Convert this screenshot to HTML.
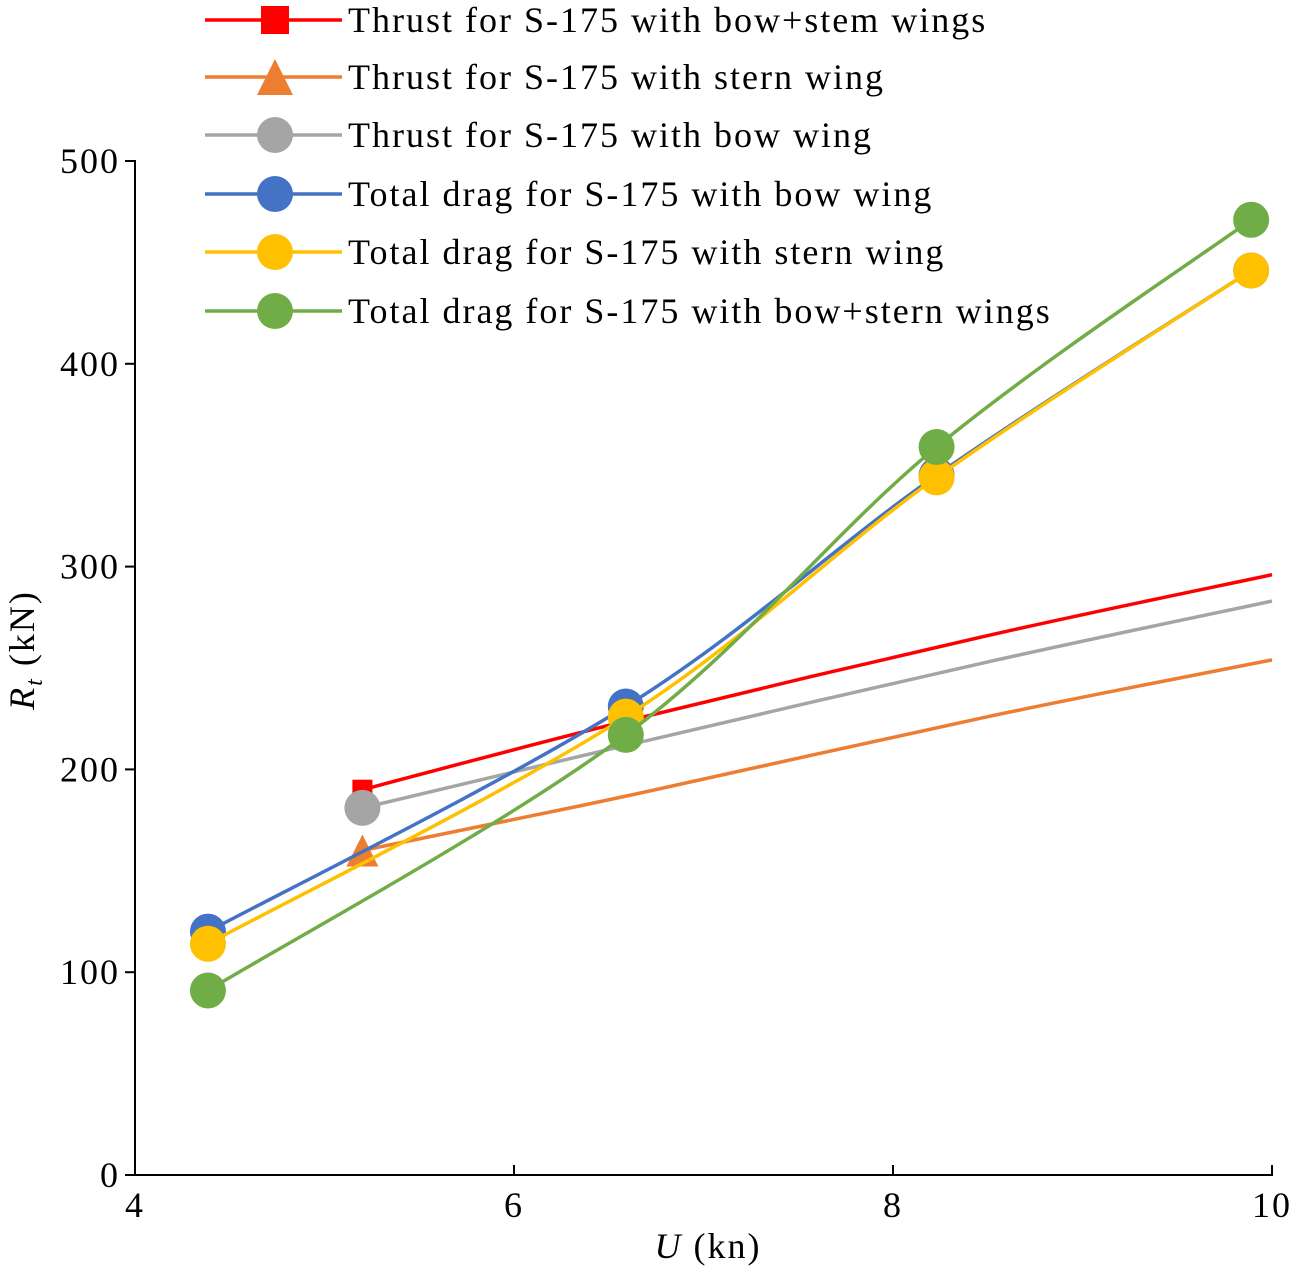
<!DOCTYPE html>
<html><head><meta charset="utf-8"><style>
html,body{margin:0;padding:0;background:#fff;}
svg{display:block;font-family:"Liberation Serif",serif;}
</style></head><body>
<svg id="chart" width="1299" height="1273" viewBox="0 0 1299 1273" xmlns="http://www.w3.org/2000/svg"></svg>
<script>
const xTicks=[4,6,8,10];
const yTicks=[0,100,200,300,400,500];
const thrustX=[5.2,6.6,8.5,10];
const thrustBowStern=[190,224,266,296];
const thrustStern=[160,187,226,254];
const thrustBow=[181,212,253,283];
const dragX=[4.385,6.59,8.23,9.89];
const dragBow=[120,231,345,446];
const dragStern=[114,226,344,446];
const dragBowStern=[91,217,359,471];

const NS="http://www.w3.org/2000/svg";
const svg=document.getElementById('chart');
const X=v=>135+(v-4)*(1272-135)/6;
const Y=v=>1175-v*(1175-161)/500;
function mk(tag,attrs,parent){const e=document.createElementNS(NS,tag);for(const k in attrs)e.setAttribute(k,attrs[k]);(parent||svg).appendChild(e);return e;}
function smooth(xs,ys){
  const p=xs.map((x,i)=>[X(x),Y(ys[i])]);
  let d=`M${p[0][0]},${p[0][1]}`;
  for(let i=0;i<p.length-1;i++){
    const p0=p[i-1]||p[i],p1=p[i],p2=p[i+1],p3=p[i+2]||p2;
    const c1=[p1[0]+(p2[0]-p0[0])/6,p1[1]+(p2[1]-p0[1])/6];
    const c2=[p2[0]-(p3[0]-p1[0])/6,p2[1]-(p3[1]-p1[1])/6];
    d+=` C${c1[0]},${c1[1]} ${c2[0]},${c2[1]} ${p2[0]},${p2[1]}`;
  }
  return d;
}
const FS=36, LS=2;
let ax=mk('line',{x1:135,y1:1175,x2:1273,y2:1175,stroke:'#000','stroke-width':2});

let ay=mk('line',{x1:135,y1:160,x2:135,y2:1175,stroke:'#000','stroke-width':2});

xTicks.forEach(t=>{
  const tk=mk('line',{x1:X(t),y1:1175,x2:X(t),y2:1165,stroke:'#000','stroke-width':2});
  
  const tx=mk('text',{x:X(t),y:1217,'text-anchor':'middle','font-size':FS,'letter-spacing':LS,fill:'#000'});tx.textContent=t;
  
});
yTicks.forEach(t=>{
  const tk=mk('line',{x1:135,y1:Y(t),x2:125,y2:Y(t),stroke:'#000','stroke-width':2});
  
  const tx=mk('text',{x:120,y:Y(t)+12,'text-anchor':'end','font-size':FS,'letter-spacing':LS,fill:'#000'});tx.textContent=t;
  
});
const xl=mk('text',{x:708,y:1258,'text-anchor':'middle','font-size':FS,'letter-spacing':LS});
xl.innerHTML='<tspan font-style="italic">U</tspan> (kn)';

const yl=mk('text',{x:0,y:0,'text-anchor':'middle','font-size':FS,'letter-spacing':LS,transform:'translate(34,650) rotate(-90)'});
yl.innerHTML='<tspan font-style="italic">R</tspan><tspan font-style="italic" font-size="24" dy="8">t</tspan><tspan dy="-8"> (kN)</tspan>';


const series=[
 {name:'thrust-bow-stern',x:thrustX,y:thrustBowStern,c:'#ff0000',m:'square',all:false,label:'Thrust for S-175 with bow+stem wings'},
 {name:'thrust-stern',x:thrustX,y:thrustStern,c:'#ed7d31',m:'tri',all:false,label:'Thrust for S-175 with stern wing'},
 {name:'thrust-bow',x:thrustX,y:thrustBow,c:'#a5a5a5',m:'circ',all:false,label:'Thrust for S-175 with bow wing'},
 {name:'drag-bow',x:dragX,y:dragBow,c:'#4472c4',m:'circ',all:true,label:'Total drag for S-175 with bow wing'},
 {name:'drag-stern',x:dragX,y:dragStern,c:'#ffc000',m:'circ',all:true,label:'Total drag for S-175 with stern wing'},
 {name:'drag-bow-stern',x:dragX,y:dragBowStern,c:'#70ad47',m:'circ',all:true,label:'Total drag for S-175 with bow+stern wings'},
];
function marker(type,cx,cy,c,big){
  let e;
  if(type==='square'){const s=big?28:20;e=mk('rect',{x:cx-s/2,y:cy-s/2,width:s,height:s,fill:c});}
  else if(type==='tri'){const s=big?18:16;e=mk('polygon',{points:`${cx},${cy-s} ${cx-s},${cy+s} ${cx+s},${cy+s}`,fill:c});}
  else {e=mk('circle',{cx:cx,cy:cy,r:big?18:18,fill:c});}
  return e;
}
series.forEach((s,i)=>{
  const p=mk('path',{d:smooth(s.x,s.y),fill:'none',stroke:s.c,'stroke-width':3.5});
  
  const n=s.all?s.x.length:1;
  for(let k=0;k<n;k++){
    const m=marker(s.m,X(s.x[k]),Y(s.y[k]),s.c,false);
    
  }
  const ly=[20,77,135,194,252,311][i];
  const ll=mk('line',{x1:205,y1:ly,x2:342,y2:ly,stroke:s.c,'stroke-width':3.5});
  
  const lm=marker(s.m,275,ly,s.c,true);
  
  const lt=mk('text',{x:348,y:ly+12,'font-size':FS,'letter-spacing':LS,fill:'#000'});lt.textContent=s.label;
  
});
</script>
</body></html>
